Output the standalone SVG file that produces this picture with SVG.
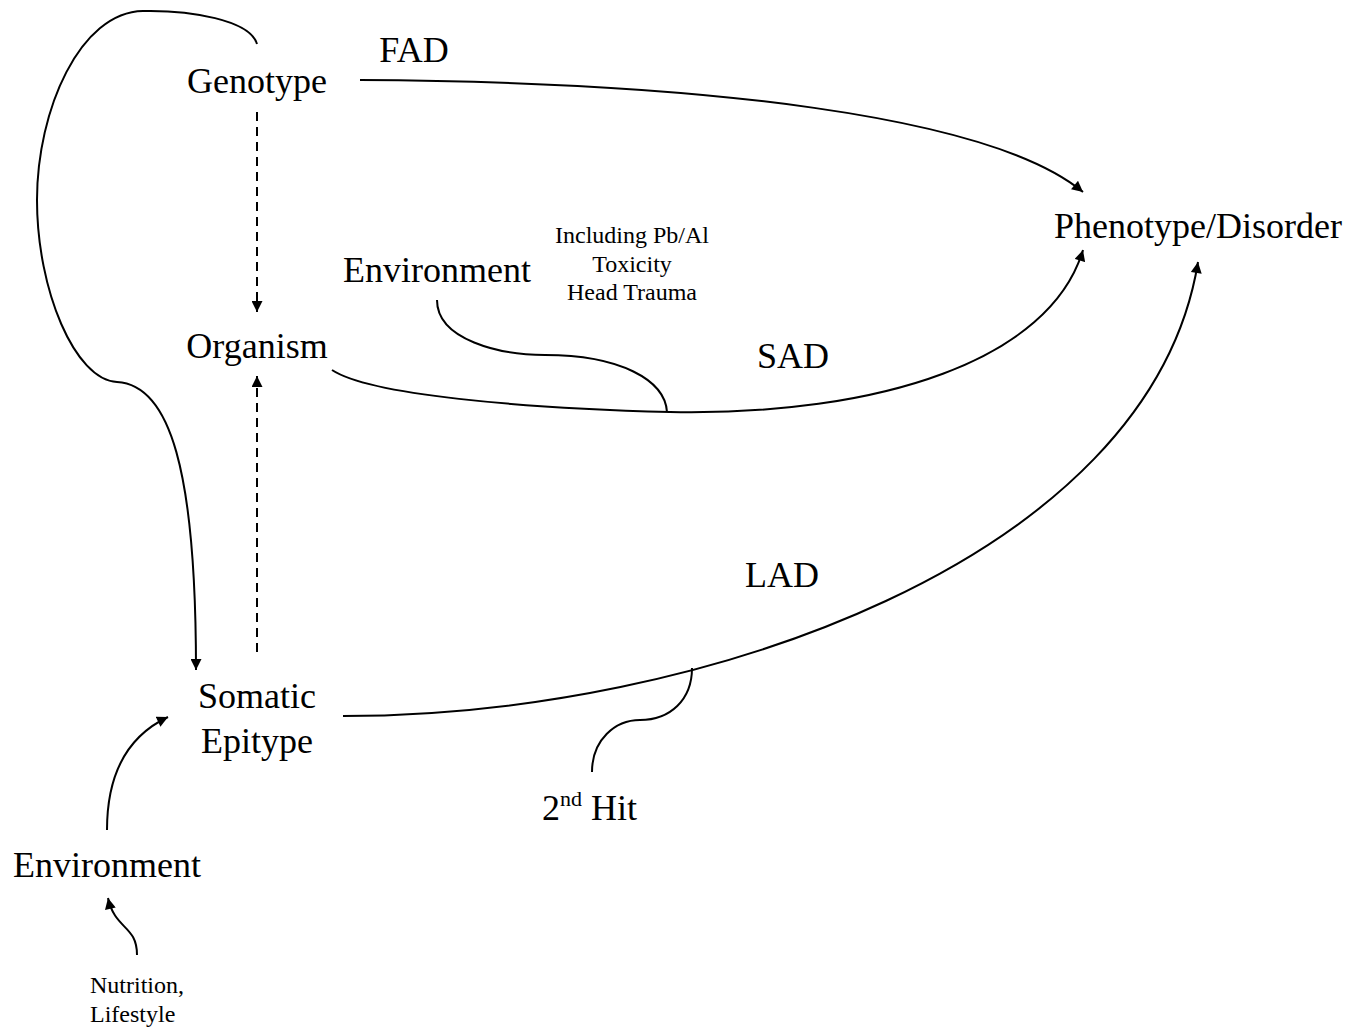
<svg xmlns="http://www.w3.org/2000/svg" width="1363" height="1028" viewBox="0 0 1363 1028">
<style>
.t{font-family:"Liberation Serif","Times New Roman",serif;fill:#000}
.big{font-size:36px}
.small{font-size:24px}
.c{fill:none;stroke:#000;stroke-width:2}
.d{stroke-dasharray:9 6}
</style>
<defs>
<marker id="ah" viewBox="0 0 10 10" refX="10" refY="5" markerWidth="12" markerHeight="11" markerUnits="userSpaceOnUse" orient="auto">
<path d="M0,0 L10,5 L0,10 z" fill="#000"/>
</marker>
</defs>
<rect width="1363" height="1028" fill="#fff"/>
<g id="connectors">
<path class="c" d="M360,80 C 700,82 990,115 1083,192" marker-end="url(#ah)"/>
<path class="c d" d="M257,112 L257,312" marker-end="url(#ah)"/>
<path class="c d" d="M257,652 L257,376" marker-end="url(#ah)"/>
<path class="c" d="M257,44 C 250,20 190,10 143,11 C 80,12 37,110 37,200 C 37,290 75,380 117,382 C 170,385 196,470 196,670" marker-end="url(#ah)"/>
<path class="c" d="M332,370 C 370,395 520,408 670,412 C 880,416 1050,360 1083,250" marker-end="url(#ah)"/>
<path class="c" d="M437,300 C 437,340 500,355 545,355 C 620,355 665,380 667,412"/>
<path class="c" d="M343,716 C 700,716 1150,560 1198,262" marker-end="url(#ah)"/>
<path class="c" d="M592,772 C 592,740 615,720 640,720 C 670,720 692,700 692,668"/>
<path class="c" d="M107,830 C 107,770 130,735 168,717" marker-end="url(#ah)"/>
<path class="c" d="M137,955 C 137,925 115,930 108,898" marker-end="url(#ah)"/>
</g>
<g id="genotype"><text class="t big" x="257" y="93" text-anchor="middle">Genotype</text></g>
<g id="fad"><text class="t big" x="414" y="62" text-anchor="middle">FAD</text></g>
<g id="organism"><text class="t big" x="257" y="358" text-anchor="middle">Organism</text></g>
<g id="environment-mid"><text class="t big" x="437" y="282" text-anchor="middle">Environment</text></g>
<g id="env-note"><text class="t small" text-anchor="middle"><tspan x="632" y="243">Including Pb/Al</tspan><tspan x="632" y="272">Toxicity</tspan><tspan x="632" y="300">Head Trauma</tspan></text></g>
<g id="phenotype"><text class="t big" x="1198" y="238" text-anchor="middle">Phenotype/Disorder</text></g>
<g id="sad"><text class="t big" x="793" y="368" text-anchor="middle">SAD</text></g>
<g id="lad"><text class="t big" x="782" y="587" text-anchor="middle">LAD</text></g>
<g id="somatic-epitype"><text class="t big" text-anchor="middle"><tspan x="257" y="708">Somatic</tspan><tspan x="257" y="753">Epitype</tspan></text></g>
<g id="second-hit"><text class="t big" x="542" y="820">2<tspan font-size="22px" dy="-14">nd</tspan><tspan dy="14"> Hit</tspan></text></g>
<g id="environment-bottom"><text class="t big" x="107" y="877" text-anchor="middle">Environment</text></g>
<g id="nutrition"><text class="t small"><tspan x="90" y="993">Nutrition,</tspan><tspan x="90" y="1022">Lifestyle</tspan></text></g>
</svg>
